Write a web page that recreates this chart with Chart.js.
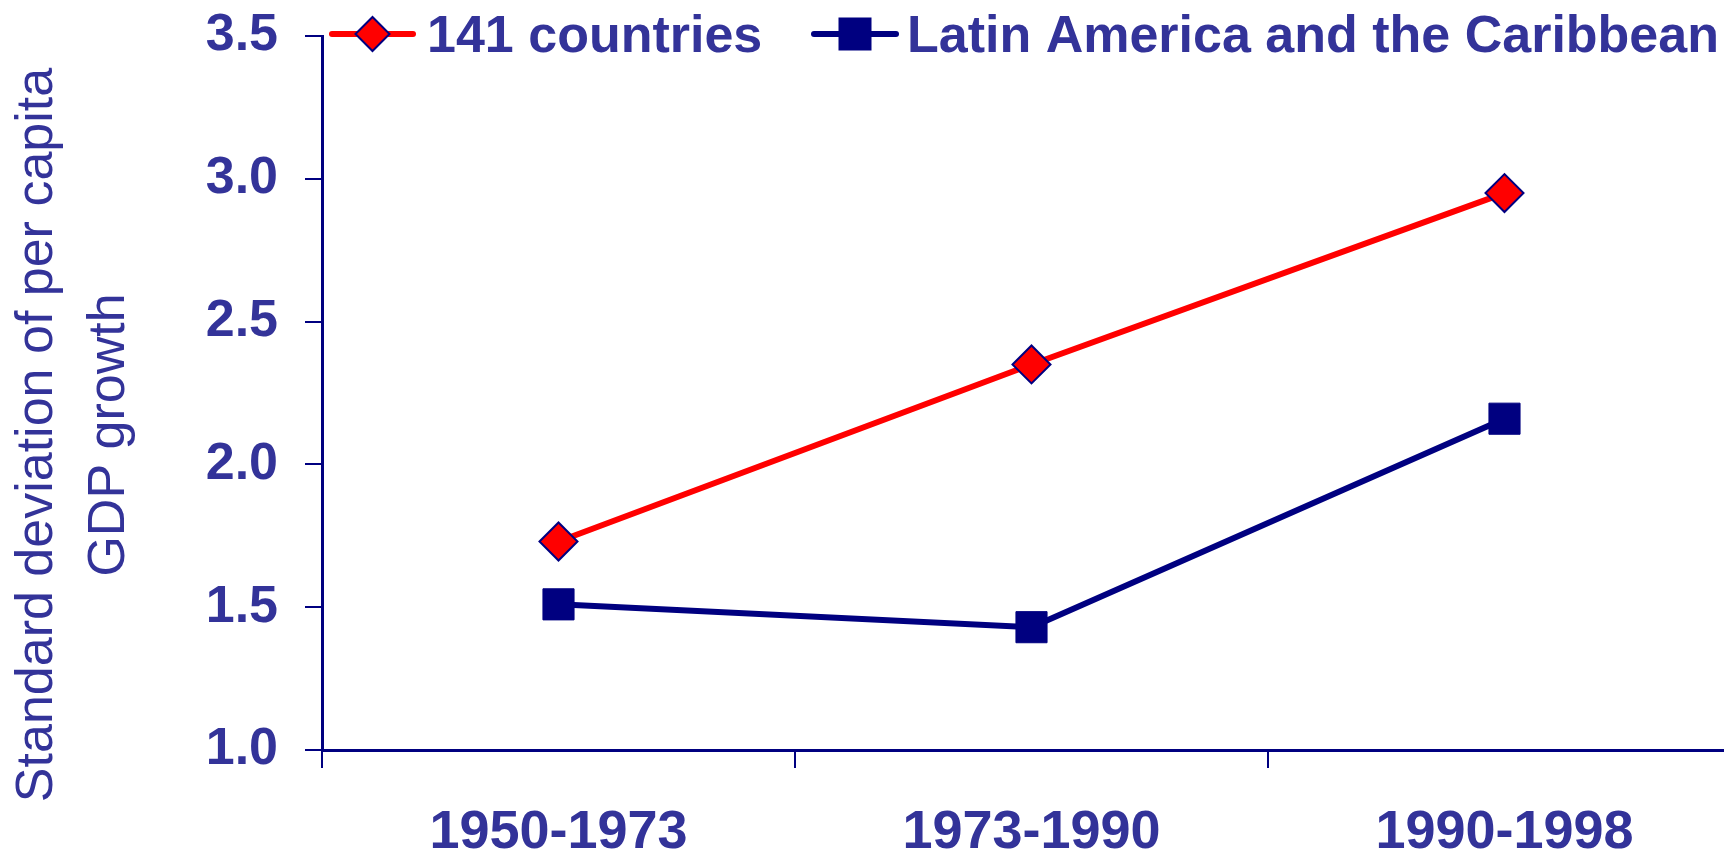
<!DOCTYPE html>
<html>
<head>
<meta charset="utf-8">
<script src="https://cdn.jsdelivr.net/npm/chart.js@4/dist/chart.umd.min.js"></script>
<style>
  html, body { margin: 0; padding: 0; background: #fff; overflow: hidden; }
  #wrap { width: 1724px; height: 854px; overflow: hidden; }
</style>
</head>
<body>
<div id="wrap"><canvas id="volChart" width="1742" height="854"></canvas></div>
<script>
// Periodos y desviación estándar del crecimiento del PIB per cápita
const periodos = ['1950-1973', '1973-1990', '1990-1998'];
const paises141 = [1.73, 2.35, 2.95];
const americaLatina = [1.51, 1.43, 2.16];
const ticksY = [1.0, 1.5, 2.0, 2.5, 3.0, 3.5];
const tituloY = ['Standard deviation of per capita', 'GDP growth'];

const azulTexto = '#333399';
const azulMarino = '#000080';
const fuente = '"Liberation Sans", Arial, Helvetica, sans-serif';

function dibujarMarcador(ctx, estilo, x, y, r) {
    ctx.beginPath();
    if (estilo === 'rectRot') {
        ctx.moveTo(x - r, y);
        ctx.lineTo(x, y - r);
        ctx.lineTo(x + r, y);
        ctx.lineTo(x, y + r);
        ctx.closePath();
    } else {
        ctx.rect(x - r, y - r, 2 * r, 2 * r);
    }
    ctx.fill();
    ctx.stroke();
}

// Leyenda con línea y marcador, como en la hoja original
const leyendaLineas = {
    id: 'leyendaLineas',
    afterDraw(chart) {
        const ctx = chart.ctx;
        const items = [
            { x0: 332, x1: 413, r: 17, tx: 427 },
            { x0: 814, x1: 896, r: 15.5, tx: 907 }
        ];
        const yc = 34;
        ctx.save();
        chart.data.datasets.forEach((ds, i) => {
            const it = items[i];
            ctx.strokeStyle = ds.borderColor;
            ctx.lineWidth = 6;
            ctx.lineCap = 'round';
            ctx.beginPath();
            ctx.moveTo(it.x0, yc);
            ctx.lineTo(it.x1, yc);
            ctx.stroke();
            ctx.fillStyle = ds.pointBackgroundColor;
            ctx.strokeStyle = ds.pointBorderColor;
            ctx.lineWidth = 2;
            dibujarMarcador(ctx, ds.pointStyle, (it.x0 + it.x1) / 2, yc, it.r);
            ctx.fillStyle = azulTexto;
            ctx.font = 'bold 52px ' + fuente;
            ctx.textBaseline = 'alphabetic';
            ctx.textAlign = 'left';
            ctx.fillText(ds.label, it.tx, 52);
        });
        ctx.restore();
    }
};

// Título del eje Y en dos líneas, girado
const tituloEjeY = {
    id: 'tituloEjeY',
    afterDraw(chart) {
        const ctx = chart.ctx;
        const lineas = [52, 124];
        ctx.save();
        ctx.fillStyle = azulTexto;
        ctx.font = '52px ' + fuente;
        ctx.textAlign = 'center';
        ctx.textBaseline = 'alphabetic';
        tituloY.forEach((t, i) => {
            ctx.save();
            ctx.translate(lineas[i], 435);
            ctx.rotate(-Math.PI / 2);
            ctx.fillText(t, 0, 0);
            ctx.restore();
        });
        ctx.restore();
    }
};

new Chart(document.getElementById('volChart'), {
    type: 'line',
    data: {
        labels: periodos,
        datasets: [{
            label: '141 countries',
            data: paises141,
            borderColor: '#ff0000',
            borderWidth: 6,
            pointStyle: 'rectRot',
            pointRadius: 19,
            pointBackgroundColor: '#ff0000',
            pointBorderColor: azulMarino,
            pointBorderWidth: 2,
            tension: 0
        }, {
            label: 'Latin America and the Caribbean',
            data: americaLatina,
            borderColor: azulMarino,
            borderWidth: 6,
            pointStyle: 'rect',
            pointRadius: 22,
            pointBackgroundColor: azulMarino,
            pointBorderColor: azulMarino,
            pointBorderWidth: 1,
            tension: 0
        }]
    },
    options: {
        responsive: false,
        animation: false,
        devicePixelRatio: 1,
        layout: { autoPadding: false, padding: { top: 36, right: 1, left: 0, bottom: 0 } },
        plugins: {
            legend: { display: false },
            tooltip: { enabled: false }
        },
        scales: {
            x: {
                offset: true,
                grid: {
                    offset: true,
                    drawOnChartArea: false,
                    color: azulMarino,
                    lineWidth: 2,
                    tickLength: 18
                },
                border: { color: azulMarino, width: 3 },
                ticks: {
                    color: azulTexto,
                    font: { family: fuente, size: 54, weight: 'bold' },
                    padding: 33,
                    maxRotation: 0
                },
                afterFit(scale) {
                    scale.height = 104;
                    scale.paddingLeft = 0;
                    scale.paddingRight = 0;
                }
            },
            y: {
                min: 1,
                max: 3.5,
                afterBuildTicks(scale) {
                    scale.ticks = ticksY.map(v => ({ value: v }));
                },
                afterFit(scale) {
                    scale.width = 322;
                    scale.paddingTop = 0;
                    scale.paddingBottom = 0;
                },
                grid: {
                    drawOnChartArea: false,
                    color: azulMarino,
                    lineWidth: 2,
                    tickLength: 17
                },
                border: { color: azulMarino, width: 3 },
                ticks: {
                    color: azulTexto,
                    font: { family: fuente, size: 52, weight: 'bold' },
                    padding: 27,
                    callback: v => Number(v).toFixed(1)
                }
            }
        }
    },
    plugins: [leyendaLineas, tituloEjeY]
});
</script>
</body>
</html>
